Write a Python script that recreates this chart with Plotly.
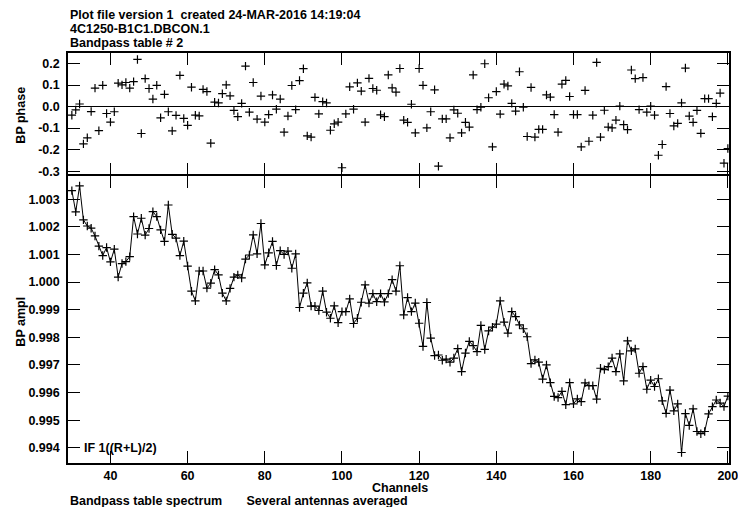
import plotly.graph_objects as go

# Channel axis
channels = list(range(30, 201))

# Bandpass phase per channel
phase = [
    -0.040, -0.015, 0.012, -0.173, -0.145, -0.023, 0.086, -0.112, 0.099, -0.032,
    -0.072, -0.024, 0.109, 0.101, 0.112, 0.086, 0.116, 0.219, -0.125, 0.130,
    0.084, 0.035, 0.099, -0.052, 0.057, -0.024, -0.113, -0.041, 0.145, -0.055,
    -0.087, 0.090, -0.040, -0.043, 0.080, 0.070, -0.170, 0.021, 0.017, 0.060,
    0.101, 0.050, -0.018, -0.047, 0.015, 0.188, -0.026, 0.112, -0.058, 0.049,
    -0.072, -0.037, 0.054, -0.012, 0.035, -0.119, -0.044, 0.098, -0.014, 0.121,
    0.176, -0.136, -0.142, 0.043, -0.034, 0.023, 0.017, -0.110, -0.080, -0.072,
    -0.284, -0.034, 0.092, -0.012, 0.110, 0.072, -0.072, 0.131, 0.084, 0.076,
    -0.038, -0.047, 0.147, 0.087, 0.067, 0.177, -0.063, -0.073, 0.011, -0.122,
    0.177, 0.099, -0.099, -0.024, 0.078, -0.277, -0.057, -0.057, -0.145, -0.015,
    -0.031, -0.122, -0.073, -0.095, 0.147, -0.014, -0.003, 0.199, 0.041, -0.187,
    0.070, -0.035, 0.104, 0.096, 0.015, -0.021, 0.162, -0.003, -0.139, 0.089,
    -0.142, -0.106, -0.106, 0.054, 0.044, -0.037, -0.119, 0.104, 0.122, 0.047,
    -0.037, -0.037, -0.187, 0.075, -0.161, -0.040, 0.205, -0.142, -0.017, -0.095,
    -0.099, -0.063, 0.002, -0.084, -0.107, 0.170, 0.130, -0.014, 0.135, -0.026,
    0.002, -0.040, -0.226, -0.176, 0.093, -0.032, -0.090, -0.078, 0.017, 0.179,
    -0.044, -0.073, -0.018, -0.124, 0.037, 0.037, -0.047, 0.015, 0.063, -0.263,
    -0.195,
]

# Bandpass amplitude per channel
ampl = [
    1.00331, 1.00254, 1.00348, 1.00225, 1.00203, 1.00195, 1.00167, 1.00130, 1.00096, 1.00125,
    1.00073, 1.00119, 1.00018, 1.00067, 1.00074, 1.00092, 1.00237, 1.00174, 1.00231, 1.00170,
    1.00194, 1.00255, 1.00237, 1.00189, 1.00147, 1.00279, 1.00173, 1.00159, 1.00096, 1.00148,
    1.00058, 0.99967, 0.99932, 1.00040, 1.00040, 0.99978, 0.99996, 1.00045, 1.00026, 0.99960,
    0.99932, 0.99977, 1.00018, 1.00026, 1.00015, 1.00083, 1.00098, 1.00171, 1.00102, 1.00212,
    1.00062, 1.00106, 1.00147, 1.00060, 1.00114, 1.00100, 1.00112, 1.00050, 1.00102, 0.99908,
    0.99960, 0.99997, 0.99913, 0.99913, 0.99897, 0.99967, 0.99891, 0.99869, 0.99914, 0.99853,
    0.99893, 0.99893, 0.99939, 0.99850, 0.99869, 0.99927, 0.99990, 0.99924, 0.99958, 0.99929,
    0.99958, 0.99928, 0.99958, 1.00009, 0.99967, 1.00059, 0.99881, 0.99944, 0.99893, 0.99924,
    0.99851, 0.99767, 0.99926, 0.99797, 0.99734, 0.99736, 0.99717, 0.99721, 0.99710, 0.99725,
    0.99759, 0.99676, 0.99743, 0.99785, 0.99770, 0.99748, 0.99843, 0.99756, 0.99823, 0.99837,
    0.99848, 0.99932, 0.99855, 0.99815, 0.99893, 0.99875, 0.99845, 0.99831, 0.99802, 0.99705,
    0.99718, 0.99710, 0.99649, 0.99700, 0.99636, 0.99586, 0.99582, 0.99604, 0.99556, 0.99636,
    0.99559, 0.99577, 0.99567, 0.99635, 0.99625, 0.99625, 0.99576, 0.99688, 0.99683, 0.99694,
    0.99725, 0.99676, 0.99740, 0.99642, 0.99787, 0.99751, 0.99758, 0.99670, 0.99694, 0.99612,
    0.99645, 0.99622, 0.99650, 0.99570, 0.99525, 0.99609, 0.99534, 0.99559, 0.99383, 0.99524,
    0.99481, 0.99541, 0.99459, 0.99451, 0.99459, 0.99523, 0.99549, 0.99573, 0.99562, 0.99549,
    0.99587,
]

# Tick positions and labels
x_ticks = [40, 60, 80, 100, 120, 140, 160, 180, 200]
x_labels = ["40", "60", "80", "100", "120", "140", "160", "180", "200"]
phase_ticks = [0.2, 0.1, 0.0, -0.1, -0.2, -0.3]
phase_labels = ["0.2", "0.1", "0.0", "-0.1", "-0.2", "-0.3"]
ampl_ticks = [1.003, 1.002, 1.001, 1.000, 0.999, 0.998, 0.997, 0.996, 0.995, 0.994]
ampl_labels = ["1.003", "1.002", "1.001", "1.000", "0.999", "0.998",
               "0.997", "0.996", "0.995", "0.994"]

header_lines = [
    "Plot file version 1  created 24-MAR-2016 14:19:04",
    "4C1250-B1C1.DBCON.1",
    "Bandpass table # 2",
]
footer_text = "Bandpass table spectrum       Several antennas averaged"
if_label = "IF 1((R+L)/2)"

W, H = 738, 507
ML, MR, MT, MB = 68, 0, 53, 44
PW, PH = W - ML - MR, H - MT - MB
FONT = "Liberation Sans"
FS = 12.5
LW = 1.6          # frame line width
SPLIT = 0.7       # paper height fraction of the amplitude panel


def paper(xpx, ypx):
    """Convert window pixel coordinates to paper coordinates."""
    return (xpx - ML) / PW, (H - MB - ypx) / PH


cross = dict(symbol="cross-thin", size=6, color="black",
             line=dict(color="black", width=1.2))

fig = go.Figure()
fig.add_trace(go.Scatter(x=channels, y=phase, mode="markers", marker=cross,
                         xaxis="x", yaxis="y", hoverinfo="skip"))
fig.add_trace(go.Scatter(x=channels, y=ampl, mode="lines+markers", marker=cross,
                         line=dict(color="black", width=1),
                         xaxis="x2", yaxis="y2", hoverinfo="skip"))

axis_common = dict(showline=True, linecolor="black", linewidth=LW, mirror="ticks",
                   ticks="inside", ticklen=12, tickwidth=1.3, tickcolor="black",
                   showgrid=False, zeroline=False,
                   tickfont=dict(family=FONT, size=FS, color="black", weight="bold"))

xr = [29, 200.3]
fig.update_layout(
    width=W, height=H,
    margin=dict(l=ML, r=MR, t=MT, b=MB),
    paper_bgcolor="white", plot_bgcolor="white",
    showlegend=False,
    font=dict(family=FONT, size=FS, color="black", weight="bold"),
    xaxis=dict(axis_common, domain=[0, 1], range=xr, anchor="y",
               tickvals=x_ticks, showticklabels=False),
    yaxis=dict(axis_common, domain=[SPLIT + LW / PH, 1], range=[-0.315, 0.249],
               anchor="x", tickvals=phase_ticks, ticktext=phase_labels,
               ticklabelstandoff=4,
               zeroline=True, zerolinecolor="black", zerolinewidth=1.2),
    xaxis2=dict(axis_common, domain=[0, 1], range=xr, anchor="y2",
                tickvals=x_ticks, ticktext=x_labels, ticklabelstandoff=0,
                ticklabeloverflow="allow"),
    yaxis2=dict(axis_common, domain=[0, SPLIT], range=[0.99345, 1.00384], anchor="x2",
                tickvals=ampl_ticks, ticktext=ampl_labels, ticklabelstandoff=4),
)

ann = []
for i, line in enumerate(header_lines):
    px, py = paper(68, 15 + 14 * i)
    ann.append(dict(x=px, y=py, text=line, xanchor="left", yanchor="middle"))
px, py = paper(20, 115)
ann.append(dict(x=px, y=py, text="BP phase", textangle=-90,
                xanchor="center", yanchor="middle"))
px, py = paper(20, 322)
ann.append(dict(x=px, y=py, text="BP ampl", textangle=-90,
                xanchor="center", yanchor="middle"))
px, py = paper(405, 487.5)
ann.append(dict(x=px, y=py, text="Channels", xanchor="center", yanchor="middle"))
px, py = paper(68, 500.5)
ann.append(dict(x=px, y=py, text=footer_text.replace(" ", "&nbsp;"),
                xanchor="left", yanchor="middle"))
px, py = paper(82, 448)
ann.append(dict(x=px, y=py, text=if_label, xanchor="left", yanchor="middle"))

for a in ann:
    a.update(xref="paper", yref="paper", showarrow=False,
             font=dict(family=FONT, size=FS, color="black", weight="bold"))
fig.update_layout(annotations=ann)

fig.write_html("out.html")
